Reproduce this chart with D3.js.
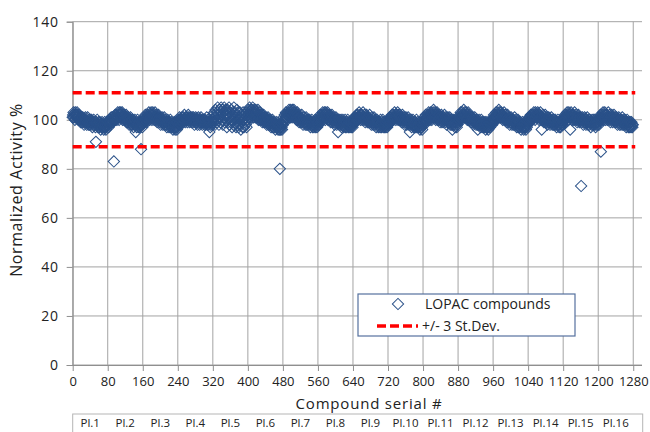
<!DOCTYPE html>
<html>
<head>
<meta charset="utf-8">
<script src="https://cdn.jsdelivr.net/npm/d3@7"></script>
<style>
  body { margin: 0; background: #fff; }
  svg { display: block; font-family: "Open Sans", sans-serif; }
</style>
</head>
<body>
<div id="chart"></div>
<script>
// tick values and labels
const yTicks = [0, 20, 40, 60, 80, 100, 120, 140];
const xTicks = [0, 80, 160, 240, 320, 400, 480, 560, 640, 720, 800, 880, 960, 1040, 1120, 1200, 1280];
const plateLabels = ["Pl.1", "Pl.2", "Pl.3", "Pl.4", "Pl.5", "Pl.6", "Pl.7", "Pl.8",
  "Pl.9", "Pl.10", "Pl.11", "Pl.12", "Pl.13", "Pl.14", "Pl.15", "Pl.16"];
const sdLimits = [89, 111];
const legendLabels = ["LOPAC compounds", "+/- 3 St.Dev."];

// normalized activity %, one line per plate (80 compounds each)
const activity = [
  101,102,103,101,102,100,103,102,101,102, 103,101,102,100,101,102,100,101,99,100, 101,99,100,101,99,100,98,100,99,101, 99,100,98,99,101,99,98,100,99,98, 100,99,98,100,99,97,99,98,100,99, 98,99,97,91,99,98,100,98,97,99, 98,97,99,98,96,98,97,99,98,97, 98,96,97,99,97,98,96,97,99,98,
  98,99,97,99,100,98,100,99,101,99, 100,101,99,100,83,101,100,102,100,101, 102,100,101,103,101,102,100,103,102,101, 103,102,101,103,100,102,101,102,100,101, 101,100,102,99,101,100,99,101,100,98, 100,99,101,98,100,99,98,100,99,97, 99,98,100,98,95,99,97,98,100,98, 97,99,98,97,99,98,88,98,99,97,
  98,100,99,101,99,100,102,100,101,99, 101,102,100,101,103,101,100,102,101,103, 102,100,102,103,101,102,100,101,103,101, 100,102,101,99,101,100,102,100,99,101, 100,98,100,99,101,99,98,100,99,101, 99,98,100,98,99,97,99,100,98,99, 97,99,98,100,97,98,99,97,98,96, 98,97,99,97,96,98,97,99,96,97,
  99,100,98,100,101,99,100,98,100,99, 101,100,99,101,100,102,100,99,101,100, 100,101,99,100,102,101,100,99,101,100, 101,99,100,101,100,99,101,100,98,100, 99,101,100,99,100,98,100,101,99,100, 98,100,99,101,99,100,98,99,100,99, 100,98,99,100,98,99,101,99,98,100, 99,98,95,99,97,98,99,100,98,99,
  100,102,99,103,101,98,104,100,102,99, 103,105,100,102,98,104,101,103,99,105, 102,100,104,98,103,101,105,99,102,104, 100,103,97,102,104,99,101,105,98,103, 101,99,104,100,97,103,102,98,105,100, 99,103,101,97,102,104,98,100,103,97, 101,98,103,100,96,102,99,101,97,103, 100,97,102,99,101,98,103,97,100,99,
  102,104,101,103,105,102,104,101,103,104, 102,105,103,101,104,102,103,101,104,102, 103,101,102,104,100,102,101,103,100,102, 101,100,102,99,101,100,102,99,101,100, 99,101,100,98,100,99,101,98,100,99, 98,100,99,97,99,98,100,97,99,98, 97,99,98,96,98,97,99,97,98,96, 97,98,96,80,97,96,98,97,96,98,
  98,99,101,100,102,100,101,103,101,102, 100,102,103,101,104,102,103,101,104,102, 103,101,104,102,103,104,102,103,101,102, 102,100,101,103,100,102,101,99,101,100, 101,99,100,102,99,100,98,100,101,99, 100,98,99,101,98,100,99,98,100,99, 98,100,99,97,99,98,100,98,97,99, 98,97,99,98,100,97,98,99,97,98,
  99,100,98,101,100,102,99,101,100,102, 101,103,100,102,101,103,102,100,103,101, 102,101,103,100,102,101,100,102,101,99, 101,100,102,99,100,101,99,100,98,100, 99,101,100,98,100,99,95,100,99,98, 100,99,98,100,97,99,98,100,99,97, 99,98,100,97,98,99,97,98,100,98, 97,99,98,97,99,98,97,98,99,97,
  98,100,99,101,100,99,101,100,102,100, 101,102,100,101,103,101,102,100,101,102, 102,100,101,103,101,100,102,101,99,101, 100,102,101,99,100,101,99,100,102,100, 99,100,98,101,99,100,98,99,101,99, 98,100,99,97,99,100,98,99,97,99, 98,99,97,100,98,97,99,98,100,97, 99,98,97,99,98,97,99,98,97,98,
  99,98,100,99,101,100,99,101,100,102, 100,101,102,100,101,103,101,102,100,101, 102,101,103,100,102,101,100,102,101,100, 101,99,100,102,100,99,101,100,98,100, 99,101,100,98,100,99,101,99,98,100, 95,99,98,100,97,99,98,100,98,97, 99,98,97,99,98,100,97,98,99,97, 98,97,99,96,98,97,99,97,96,98,
  98,100,99,101,99,100,102,100,101,99, 101,102,100,103,101,102,100,101,103,102, 100,102,101,103,104,102,101,103,102,100, 102,101,103,100,102,101,100,102,101,99, 101,100,102,99,101,100,99,101,100,102, 100,99,101,100,98,100,99,101,99,100, 99,101,98,100,99,98,100,96,99,98, 100,98,99,97,99,98,100,97,98,99,
  99,100,101,100,102,101,103,101,102,100, 103,101,102,104,102,103,101,102,103,101, 102,100,101,103,101,100,102,100,101,99, 101,100,99,101,100,98,100,99,101,99, 100,98,99,100,98,96,99,98,100,98, 99,97,98,100,98,97,99,98,97,99, 98,97,99,96,98,97,99,97,98,96, 97,99,98,97,99,98,100,99,98,100,
  99,100,102,101,100,102,101,103,100,102, 101,103,102,104,101,103,102,101,103,102, 101,102,100,102,101,103,100,101,102,100, 101,99,100,102,100,99,101,100,98,100, 99,101,100,98,100,99,98,100,99,101, 98,99,100,98,97,99,98,100,97,99, 98,97,99,98,96,98,97,99,98,97, 96,98,97,99,97,96,98,97,99,98,
  99,100,101,99,101,100,102,100,101,102, 100,102,101,103,101,102,100,103,101,102, 102,101,103,101,102,100,102,101,103,101, 100,96,101,100,102,100,99,101,100,102, 100,99,101,100,98,100,99,101,99,100, 98,100,99,101,99,98,100,99,98,100, 99,98,100,98,99,97,99,98,100,98, 99,97,98,99,97,98,100,98,99,98,
  99,100,101,100,102,101,100,102,101,103, 101,102,100,103,101,102,96,101,103,102, 100,102,101,100,102,101,103,100,101,102, 100,101,99,101,100,102,100,99,101,100, 101,73,100,99,101,100,98,100,99,101, 99,100,98,100,99,101,99,98,100,99, 98,100,99,97,99,98,100,99,98,100, 99,98,100,98,97,99,98,100,99,98,
  99,100,98,101,100,102,87,101,100,102, 101,103,100,102,101,103,102,100,102,101, 102,100,101,103,101,100,102,101,99,101, 100,102,101,99,101,100,102,100,99,101, 100,99,101,100,98,100,99,101,100,98, 100,99,98,100,99,101,98,100,99,98, 99,100,98,99,97,99,100,98,99,97, 98,99,97,99,98,97,99,98,97,98
];

const width = 650, height = 432;
const plotLeft = 72.7, plotRight = 642, plotTop = 21.7, plotBottom = 365;

const svg = d3.select("#chart").append("svg")
  .attr("width", width)
  .attr("height", height);

const x = d3.scaleLinear().domain([0, 1300]).range([plotLeft, plotRight]);
const y = d3.scaleLinear().domain([0, 140]).range([plotBottom, plotTop]);

// grid
const grid = svg.append("g").attr("stroke", "#a3a3a3").attr("stroke-width", 1);
grid.selectAll(".gy").data(yTicks).enter().append("line")
  .attr("x1", plotLeft).attr("x2", plotRight)
  .attr("y1", d => y(d)).attr("y2", d => y(d));
grid.selectAll(".gx").data(xTicks).enter().append("line")
  .attr("x1", d => x(d)).attr("x2", d => x(d))
  .attr("y1", plotTop).attr("y2", plotBottom);

// axes
const yAxis = svg.append("g")
  .attr("transform", `translate(${plotLeft},0)`)
  .call(d3.axisLeft(y).tickValues(yTicks).tickFormat(d3.format("d")).tickSize(6).tickPadding(8));
const xAxis = svg.append("g")
  .attr("transform", `translate(0,${plotBottom})`)
  .call(d3.axisBottom(x).tickValues(xTicks).tickFormat(d3.format("d")).tickSize(6).tickPadding(6));
[yAxis, xAxis].forEach(a => {
  a.select(".domain").attr("stroke", "#8f8f8f");
  a.selectAll(".tick line").attr("stroke", "#8f8f8f");
  a.selectAll(".tick text")
    .attr("fill", "#222")
    .style("font-family", "'Open Sans', sans-serif")
    .style("font-size", "14px");
});
yAxis.selectAll(".tick text").style("letter-spacing", "0.7px");
xAxis.selectAll(".tick text").style("font-size", "13px");
xAxis.select(".domain").attr("d", `M${plotLeft},0.5H${plotRight}`);

// axis titles
svg.append("text")
  .attr("x", 369).attr("y", 409)
  .attr("text-anchor", "middle")
  .attr("fill", "#222")
  .style("font-size", "15px")
  .style("letter-spacing", "0.8px")
  .text("Compound serial #");

svg.append("text")
  .attr("transform", "translate(22,190) rotate(-90)")
  .attr("text-anchor", "middle")
  .attr("fill", "#222")
  .style("font-size", "16px")
  .style("letter-spacing", "0.6px")
  .text("Normalized Activity %");

// plate label strip
svg.append("rect")
  .attr("x", plotLeft).attr("y", 414)
  .attr("width", 570).attr("height", 40)
  .attr("fill", "none").attr("stroke", "#b5b5b5");
svg.append("g").selectAll("text").data(plateLabels).enter().append("text")
  .attr("x", (d, i) => x(i * 80 + 40))
  .attr("y", 427)
  .attr("text-anchor", "middle")
  .attr("fill", "#222")
  .style("font-size", "11.5px")
  .text(d => d);

// compounds
const diamond = d3.symbol().type(d3.symbolSquare).size(64);
svg.append("g")
  .attr("fill", "none")
  .attr("stroke", "#2a5189")
  .attr("stroke-width", 1)
  .selectAll("path").data(activity).enter().append("path")
  .attr("d", diamond)
  .attr("transform", (d, i) => `translate(${x(i)},${y(d)}) rotate(45)`);

// +/- 3 SD lines
svg.append("g").selectAll("line").data(sdLimits).enter().append("line")
  .attr("x1", plotLeft).attr("x2", x(1280) + 2)
  .attr("y1", d => y(d)).attr("y2", d => y(d))
  .attr("stroke", "#ff0000")
  .attr("stroke-width", 3.5)
  .attr("stroke-dasharray", "9,4");

// legend
const lg = svg.append("g");
lg.append("rect")
  .attr("x", 358).attr("y", 294)
  .attr("width", 217).attr("height", 42)
  .attr("fill", "#fff").attr("stroke", "#55719e").attr("stroke-width", 1.2);
lg.append("path")
  .attr("d", diamond)
  .attr("transform", "translate(398,304) rotate(45)")
  .attr("fill", "none").attr("stroke", "#2a5189");
lg.append("line")
  .attr("x1", 377).attr("x2", 418).attr("y1", 326).attr("y2", 326)
  .attr("stroke", "#ff0000").attr("stroke-width", 3.5).attr("stroke-dasharray", "9,4");
lg.selectAll("text").data(legendLabels).enter().append("text")
  .attr("x", (d, i) => i === 0 ? 425 : 422)
  .attr("y", (d, i) => i === 0 ? 309 : 331)
  .attr("fill", "#222")
  .style("font-size", "14px")
  .text(d => d);
</script>
</body>
</html>
